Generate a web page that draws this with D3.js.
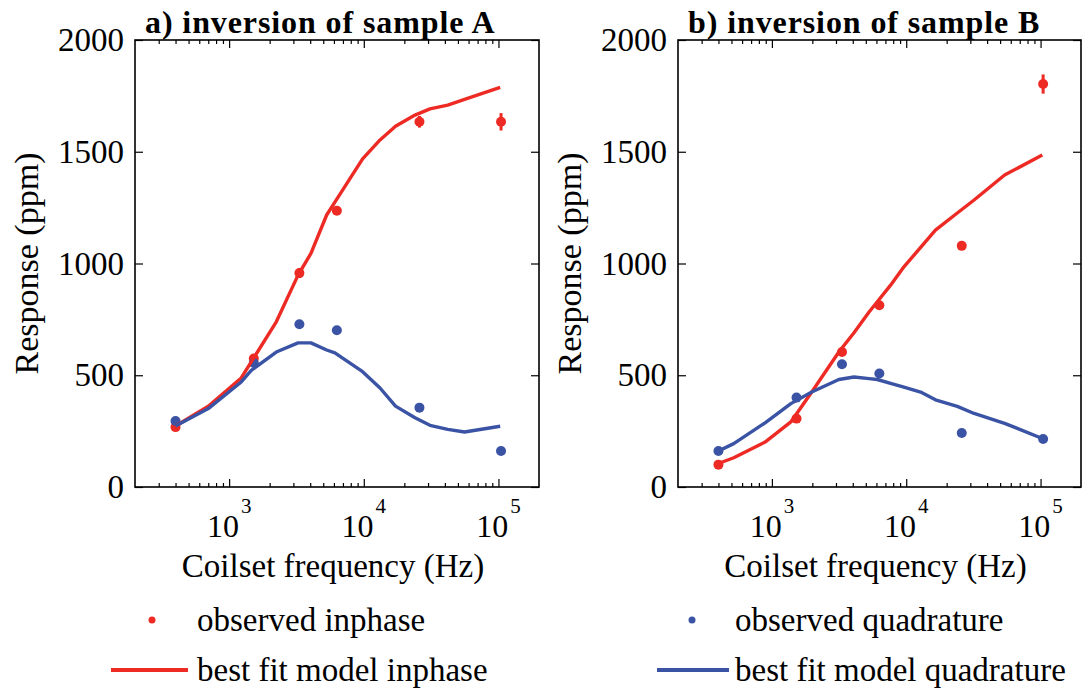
<!DOCTYPE html>
<html><head><meta charset="utf-8">
<script src="https://cdn.jsdelivr.net/npm/d3@7"></script>
<style>body{margin:0;background:#fff}svg{display:block}</style>
</head><body>
<script>
// ---- data ----
const freqObs = [400, 1525, 3325, 6310, 25900, 104500];
const obsInA  = [268, 575, 957, 1236, 1634, 1634];
const errInA  = [6, 10, 22, 12, 26, 39];
const obsQuA  = [295, 555, 728, 701, 355, 161];
const modelFreqA = [400, 700, 1230, 1460, 2240, 3250, 4050, 5300, 6100, 9800, 13200, 17200, 24000, 31000, 42000, 56000, 103000];
const modelInA   = [273, 361, 488, 560, 739, 948, 1045, 1217, 1275, 1468, 1553, 1614, 1664, 1692, 1709, 1734, 1788];
const modelQuA   = [273, 351, 470, 522, 604, 645, 645, 613, 600, 516, 443, 362, 310, 276, 258, 246, 272];

const obsInB  = [100, 306, 604, 813, 1079, 1803];
const errInB  = [5, 8, 10, 10, 18, 43];
const obsQuB  = [161, 400, 549, 508, 242, 215];
const modelFreqB = [400, 520, 890, 1384, 1980, 3150, 4085, 5290, 6090, 7650, 9610, 12800, 16500, 24000, 32000, 54000, 103000];
const modelInB   = [105, 131, 201, 291, 425, 604, 690, 783, 829, 903, 985, 1072, 1149, 1226, 1284, 1396, 1485];
const modelQuB   = [161, 194, 287, 373, 425, 481, 492, 485, 481, 464, 447, 425, 390, 361, 329, 285, 217];

const yTicks = [0, 500, 1000, 1500, 2000];
const xMajor = [1e3, 1e4, 1e5];
const xExp = ["3", "4", "5"];
const titles = ["a) inversion of sample A", "b) inversion of sample B"];
const legendLabels = ["observed inphase", "best fit model inphase", "observed quadrature", "best fit model quadrature"];

const RED = "#ED2A24", BLUE = "#3A53A4";
const FONT = "'Liberation Serif','Times New Roman',serif";

const svg = d3.select("body").append("svg").attr("width", 1082).attr("height", 693)
  .style("font-family", FONT);

const xMinor = [];
[100, 1000, 10000, 100000].forEach(d => { for (let k = 2; k <= 9; k++) { const v = d * k; if (v > 200 && v < 200000 && !xMajor.includes(v)) xMinor.push(v); } });

const panels = [
  {x0: 135, x1: 539, title: titles[0], obsIn: obsInA, err: errInA, obsQu: obsQuA, mf: modelFreqA, mIn: modelInA, mQu: modelQuA},
  {x0: 678, x1: 1081, title: titles[1], obsIn: obsInB, err: errInB, obsQu: obsQuB, mf: modelFreqB, mIn: modelInB, mQu: modelQuB}
];
const y0 = 40, y1 = 487;

panels.forEach(p => {
  const x = d3.scaleLog().domain([200, 200000]).range([p.x0, p.x1]);
  const y = d3.scaleLinear().domain([0, 2000]).range([y1, y0]);
  const g = svg.append("g");

  // axes
  const styleAxis = sel => { sel.select(".domain").remove(); sel.selectAll("line").attr("stroke", "#000").attr("stroke-width", 1.2); };
  g.append("g").attr("transform", `translate(0,${y1})`).call(d3.axisBottom(x).tickValues(xMajor).tickSize(-8).tickSizeOuter(0).tickFormat("")).call(styleAxis);
  g.append("g").attr("transform", `translate(0,${y1})`).call(d3.axisBottom(x).tickValues(xMinor).tickSize(-4).tickSizeOuter(0).tickFormat("")).call(styleAxis);
  g.append("g").attr("transform", `translate(0,${y0})`).call(d3.axisTop(x).tickValues(xMajor).tickSize(-8).tickSizeOuter(0).tickFormat("")).call(styleAxis);
  g.append("g").attr("transform", `translate(0,${y0})`).call(d3.axisTop(x).tickValues(xMinor).tickSize(-4).tickSizeOuter(0).tickFormat("")).call(styleAxis);
  const yl = g.append("g").attr("transform", `translate(${p.x0},0)`).call(d3.axisLeft(y).tickValues(yTicks).tickSize(-8).tickSizeOuter(0).tickPadding(11).tickFormat(d3.format("d"))).call(styleAxis);
  yl.selectAll("text").attr("font-size", 33).attr("font-family", FONT).attr("fill", "#000");
  g.append("g").attr("transform", `translate(${p.x1},0)`).call(d3.axisRight(y).tickValues(yTicks).tickSize(-8).tickSizeOuter(0).tickFormat("")).call(styleAxis);

  g.append("rect").attr("x", p.x0).attr("y", y0).attr("width", p.x1 - p.x0).attr("height", y1 - y0)
    .attr("fill", "none").attr("stroke", "#000").attr("stroke-width", 1.6);

  // x tick labels 10^n
  xMajor.forEach((v, i) => {
    const t = g.append("text").attr("x", x(v)).attr("y", 537).attr("text-anchor", "middle").attr("font-size", 32);
    t.append("tspan").text("10");
    t.append("tspan").attr("dy", -24).attr("dx", 2).attr("font-size", 21).text(xExp[i]);
  });

  // labels
  g.append("text").attr("x", (p.x0 + p.x1) / 2 - 4).attr("y", 577).attr("text-anchor", "middle").attr("font-size", 33).text("Coilset frequency (Hz)");
  g.append("text").attr("transform", `translate(${p.x0 - 97},${(y0 + y1) / 2}) rotate(-90)`).attr("text-anchor", "middle").attr("font-size", 34).text("Response (ppm)");
  g.append("text").attr("x", p.x0 + 10).attr("y", 33).attr("font-size", 32).attr("font-weight", "bold").attr("letter-spacing", 0.9).text(p.title);

  // observed points
  const obs = freqObs.map((f, i) => ({f, vi: p.obsIn[i], e: p.err[i], vq: p.obsQu[i]}));
  g.selectAll(".eb").data(obs).enter().append("line")
    .attr("x1", d => x(d.f)).attr("x2", d => x(d.f))
    .attr("y1", d => y(d.vi - d.e)).attr("y2", d => y(d.vi + d.e))
    .attr("stroke", RED).attr("stroke-width", 3);
  g.selectAll(".oi").data(obs).enter().append("circle")
    .attr("cx", d => x(d.f)).attr("cy", d => y(d.vi)).attr("r", 5).attr("fill", RED);
  g.selectAll(".oq").data(obs).enter().append("circle")
    .attr("cx", d => x(d.f)).attr("cy", d => y(d.vq)).attr("r", 5).attr("fill", BLUE);

  // model lines
  const line = d3.line().x(d => x(d[0])).y(d => y(d[1]));
  g.append("path").datum(p.mf.map((f, i) => [f, p.mIn[i]])).attr("d", line)
    .attr("fill", "none").attr("stroke", RED).attr("stroke-width", 3.4).attr("stroke-linejoin", "round");
  g.append("path").datum(p.mf.map((f, i) => [f, p.mQu[i]])).attr("d", line)
    .attr("fill", "none").attr("stroke", BLUE).attr("stroke-width", 3.4).attr("stroke-linejoin", "round");
});

// legend
const leg = svg.append("g").attr("font-size", 33);
const legItems = [
  {type: "dot", color: RED, cx: 152, cy: 620, tx: 197, ty: 631, label: legendLabels[0]},
  {type: "line", color: RED, lx0: 111, lx1: 188, cy: 670, tx: 197, ty: 681, label: legendLabels[1]},
  {type: "dot", color: BLUE, cx: 692, cy: 620, tx: 735, ty: 631, label: legendLabels[2]},
  {type: "line", color: BLUE, lx0: 657, lx1: 729, cy: 670, tx: 735, ty: 681, label: legendLabels[3]}
];
legItems.forEach(d => {
  if (d.type === "dot") leg.append("circle").attr("cx", d.cx).attr("cy", d.cy).attr("r", 3.5).attr("fill", d.color);
  else leg.append("line").attr("x1", d.lx0).attr("x2", d.lx1).attr("y1", d.cy).attr("y2", d.cy).attr("stroke", d.color).attr("stroke-width", 4);
  leg.append("text").attr("x", d.tx).attr("y", d.ty).text(d.label);
});
</script>
</body></html>
